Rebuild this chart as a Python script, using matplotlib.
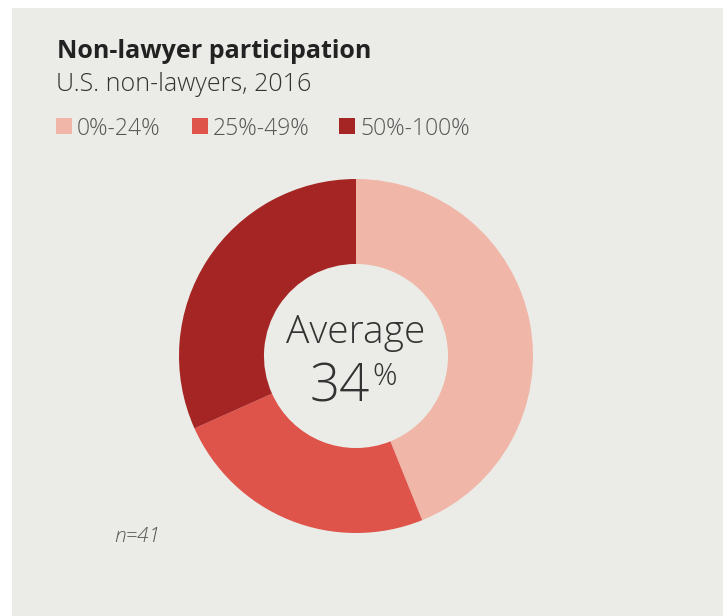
import matplotlib
matplotlib.use("Agg")
from matplotlib import pyplot as plt
from matplotlib.patches import Rectangle

# data
categories = ["0%-24%", "25%-49%", "50%-100%"]
counts = [18, 10, 13]
colors = ["#f0b6a7", "#de534a", "#a52524"]
average = "34"
n_label = "n=41"

W, H = 723, 616
fig = plt.figure(figsize=(W / 100, H / 100), dpi=100)
fig.patch.set_facecolor("white")
fig.patches.append(Rectangle((12 / W, 0), 1, 1 - 8 / H, transform=fig.transFigure,
                             facecolor="#ebebe7", edgecolor="none", zorder=-10))

FONT = "Open Sans"
TXT = "#333333"

def fx(px):
    return px / W

def fy(py):
    return 1 - py / H

fig.text(fx(57), fy(58), "Non-lawyer participation", fontsize=18, fontweight="bold",
         family=FONT, color="#222222", va="baseline")
fig.text(fx(56), fy(91), "U.S. non-lawyers, 2016", fontsize=18, fontweight="light",
         family=FONT, color=TXT, va="baseline")

# legend
sq_x = [56, 192, 339]
for x, c, lab in zip(sq_x, colors, categories):
    fig.patches.append(Rectangle((fx(x), fy(134)), 16 / W, 16 / H, transform=fig.transFigure,
                                 facecolor=c, edgecolor="none", zorder=1))
    fig.text(fx(x + 21), fy(135), lab, fontsize=16.5, fontweight="light",
             family=FONT, color="#555555", va="baseline")

# donut
cx, cy, r = 356, 356, 177
ax = fig.add_axes([fx(cx - r), fy(cy + r), 2 * r / W, 2 * r / H])
ax.pie(counts, colors=colors, startangle=90, counterclock=False, radius=1,
       wedgeprops=dict(width=0.48, edgecolor="none"))
ax.set_xlim(-1, 1)
ax.set_ylim(-1, 1)
ax.set_aspect("equal")
ax.axis("off")

fig.text(fx(356), fy(343), "Average", fontsize=28, fontweight="light",
         family=FONT, color=TXT, ha="center", va="baseline")
fig.text(fx(370), fy(402), average, fontsize=38, fontweight="light",
         family=FONT, color=TXT, ha="right", va="baseline")
fig.text(fx(372), fy(385), "%", fontsize=22, fontweight="light",
         family=FONT, color=TXT, ha="left", va="baseline")

fig.text(fx(114), fy(542), n_label, fontsize=15, fontweight="light", style="italic",
         family=FONT, color="#555555", va="baseline")

fig.savefig("out.png", dpi=100, facecolor=fig.get_facecolor())
